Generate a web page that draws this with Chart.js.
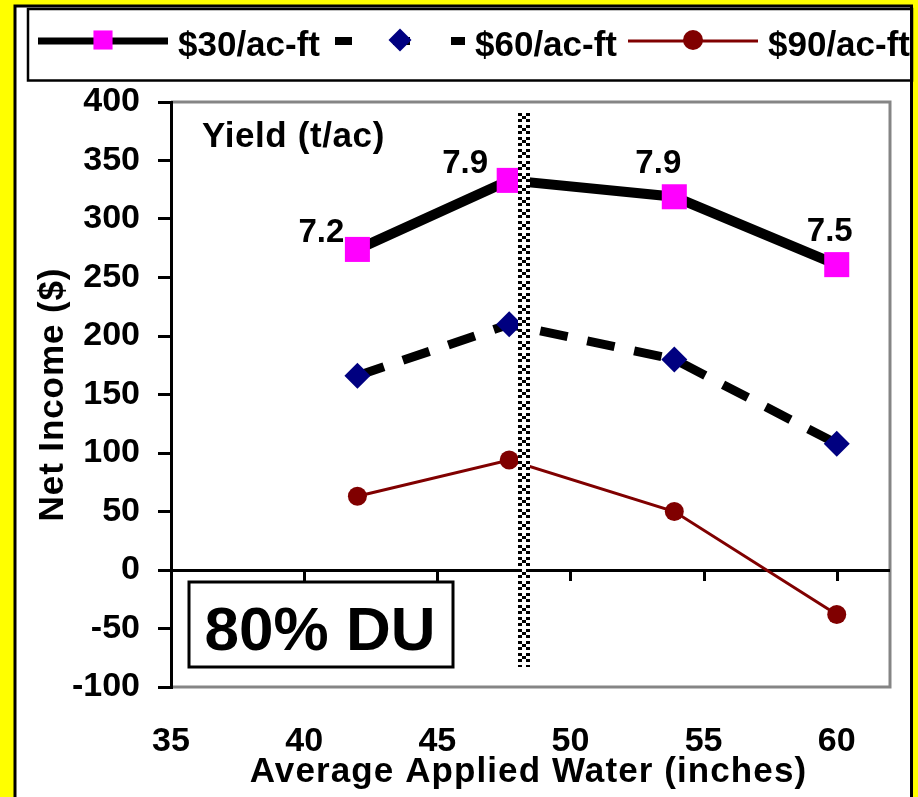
<!DOCTYPE html>
<html>
<head>
<meta charset="utf-8">
<title>Net Income vs Applied Water</title>
<script src="https://cdn.jsdelivr.net/npm/chart.js@4.4.1/dist/chart.umd.min.js"></script>
<style>
  html, body { margin: 0; padding: 0; background: #ffff00; }
  canvas { display: block; }
</style>
</head>
<body>
<canvas id="chart" width="918" height="797"></canvas>
<script>
// Average applied water (inches) for each irrigation level
const appliedWater = [42, 47.7, 53.9, 60];
// Net income ($) at three water prices
const income30 = [274, 333, 319, 261];
const income60 = [166, 210, 180, 108];
const income90 = [63, 94, 50, -38];
// Yield (t/ac) reached at each irrigation level
const yields = ['7.2', '7.9', '7.9', '7.5'];
const seriesLabels = ['$30/ac-ft', '$60/ac-ft', '$90/ac-ft'];
// Axis ticks
const xTickValues = [35, 40, 45, 50, 55, 60];
const yTickValues = [-100, -50, 0, 50, 100, 150, 200, 250, 300, 350, 400];
// Applied water giving the highest income, marked with a vertical guide
const peakWater = 48.25;
const guideSpan = [391, -83];

const FONT = '"Liberation Sans", Arial, Helvetica, sans-serif';
const toPoints = arr => appliedWater.map((x, i) => ({ x: x, y: arr[i] }));

// Offsets of the yield labels from their markers
const yieldLabelOffsets = [[-36, -17], [-44, -16], [-16, -33], [-7, -33]];

const framePlugin = {
  id: 'frame',
  beforeDraw(chart) {
    const { ctx, chartArea: a } = chart;
    ctx.save();
    ctx.fillStyle = '#ffff00';
    ctx.fillRect(0, 0, chart.width, chart.height);
    // white panel with black frame
    ctx.fillStyle = '#ffffff';
    ctx.fillRect(15, 6, 897, 800);
    ctx.strokeStyle = '#000';
    ctx.lineWidth = 3;
    ctx.strokeRect(15, 6, 896.5, 820);
    // legend box
    ctx.lineWidth = 2.5;
    ctx.strokeRect(28, 9, 884, 71.5);
    // grey plot border
    ctx.strokeStyle = '#858585';
    ctx.lineWidth = 3;
    ctx.beginPath();
    ctx.moveTo(a.left, a.top);
    ctx.lineTo(a.right, a.top);
    ctx.lineTo(a.right, a.bottom);
    ctx.lineTo(a.left, a.bottom);
    ctx.stroke();
    ctx.restore();
  },
  beforeDatasetsDraw(chart) {
    const { ctx } = chart;
    const xs = chart.scales.x, ys = chart.scales.y;
    const y0 = ys.getPixelForValue(0);
    ctx.save();
    ctx.strokeStyle = '#000';
    ctx.lineWidth = 3;
    ctx.beginPath();
    xTickValues.forEach(v => {
      const px = Math.round(xs.getPixelForValue(v)) + 0.5;
      ctx.moveTo(px, y0);
      ctx.lineTo(px, y0 + 11);
    });
    ctx.stroke();
    ctx.restore();
  },
  afterDatasetsDraw(chart) {
    const { ctx } = chart;
    const xs = chart.scales.x, ys = chart.scales.y;
    // vertical guide made of stacked small crosses
    const tile = document.createElement('canvas');
    tile.width = 12; tile.height = 12;
    const t = tile.getContext('2d');
    t.fillStyle = '#fff'; t.fillRect(0, 0, 12, 12);
    t.fillStyle = '#000';
    t.fillRect(0, 0, 4, 3); t.fillRect(8, 0, 4, 3);
    t.fillRect(4, 3, 4, 3);
    t.fillRect(0, 6, 4, 3); t.fillRect(8, 6, 4, 3);
    const pat = ctx.createPattern(tile, 'repeat');
    const gx = Math.round(xs.getPixelForValue(peakWater)) - 6;
    const gTop = Math.round(ys.getPixelForValue(guideSpan[0]));
    const gBot = Math.round(ys.getPixelForValue(guideSpan[1]));
    ctx.save();
    ctx.translate(gx, gTop);
    ctx.fillStyle = pat;
    ctx.fillRect(0, 0, 12, gBot - gTop);
    ctx.restore();

    // yield labels beside the $30 markers
    const meta = chart.getDatasetMeta(0);
    ctx.save();
    ctx.fillStyle = '#000';
    ctx.font = 'bold 33px ' + FONT;
    ctx.textAlign = 'center';
    ctx.textBaseline = 'middle';
    meta.data.forEach((pt, i) => {
      const off = yieldLabelOffsets[i];
      ctx.fillText(yields[i], pt.x + off[0], pt.y + off[1]);
    });
    ctx.restore();
  },
  afterDraw(chart) {
    const { ctx, chartArea: a } = chart;
    ctx.save();
    ctx.fillStyle = '#000';
    // caption for the yield labels
    ctx.font = 'bold 35px ' + FONT;
    ctx.textAlign = 'left';
    ctx.textBaseline = 'alphabetic';
    ctx.letterSpacing = '0.6px';
    ctx.fillText('Yield (t/ac)', a.left + 31, a.top + 45);
    ctx.letterSpacing = '0px';

    // distribution uniformity box
    ctx.fillStyle = '#fff';
    ctx.fillRect(189, 582, 264, 85);
    ctx.strokeStyle = '#000';
    ctx.lineWidth = 3;
    ctx.strokeRect(189, 582, 264, 85);
    ctx.fillStyle = '#000';
    ctx.font = 'bold 62px ' + FONT;
    ctx.textAlign = 'center';
    ctx.fillText('80% DU', 320, 650);

    // axis titles
    ctx.font = 'bold 35px ' + FONT;
    ctx.letterSpacing = '1.1px';
    ctx.textAlign = 'center';
    ctx.fillText('Average Applied Water (inches)', (a.left + a.right) / 2 - 2, 782);
    ctx.save();
    ctx.translate(63, (a.top + a.bottom) / 2);
    ctx.rotate(-Math.PI / 2);
    ctx.letterSpacing = '0.9px';
    ctx.fillText('Net Income ($)', 0, 0);
    ctx.restore();
    ctx.letterSpacing = '0px';

    // legend
    const slots = [38, 335, 628];
    const legendY = 41;
    ctx.beginPath();
    ctx.rect(30, 10, 880, 69);
    ctx.clip();
    chart.data.datasets.forEach((ds, i) => {
      const x0 = slots[i];
      ctx.save();
      ctx.strokeStyle = ds.borderColor;
      ctx.lineWidth = ds.legendLineWidth;
      ctx.setLineDash(ds.legendDash || []);
      ctx.lineCap = 'butt';
      ctx.beginPath();
      ctx.moveTo(x0, legendY);
      ctx.lineTo(x0 + 130, legendY);
      ctx.stroke();
      ctx.setLineDash([]);
      ctx.fillStyle = ds.pointBackgroundColor;
      Chart.helpers.drawPoint(ctx, { pointStyle: ds.pointStyle, radius: ds.legendRadius, borderWidth: 0, rotation: 0 }, x0 + 65, legendY - 1);
      ctx.restore();
      ctx.fillStyle = '#000';
      ctx.font = 'bold 35px ' + FONT;
      ctx.textAlign = 'left';
      ctx.textBaseline = 'alphabetic';
      ctx.fillText(ds.label, x0 + 140, 56);
    });
    ctx.restore();
  }
};

new Chart(document.getElementById('chart'), {
  type: 'line',
  data: {
    datasets: [
      {
        label: seriesLabels[0],
        data: toPoints(income30),
        borderColor: '#000000',
        borderWidth: 10,
        pointStyle: 'rect',
        pointRadius: 17.7,
        pointBackgroundColor: '#ff00ff',
        pointBorderColor: '#ff00ff',
        pointBorderWidth: 0,
        legendLineWidth: 7,
        legendRadius: 13.5
      },
      {
        label: seriesLabels[1],
        data: toPoints(income60),
        borderColor: '#000000',
        borderWidth: 9,
        borderDash: [28, 20],
        pointStyle: 'rectRot',
        pointRadius: 13,
        pointBackgroundColor: '#000080',
        pointBorderColor: '#000080',
        pointBorderWidth: 0,
        legendLineWidth: 8,
        legendDash: [17, 41],
        legendRadius: 11.5
      },
      {
        label: seriesLabels[2],
        data: toPoints(income90),
        borderColor: '#800000',
        borderWidth: 3,
        pointStyle: 'circle',
        pointRadius: 9.5,
        pointBackgroundColor: '#800000',
        pointBorderColor: '#800000',
        pointBorderWidth: 0,
        legendLineWidth: 3,
        legendRadius: 10
      }
    ]
  },
  options: {
    responsive: false,
    animation: false,
    devicePixelRatio: 1,
    events: [],
    layout: { padding: { top: 102, right: 28, bottom: 0, left: 0 } },
    elements: { line: { tension: 0, fill: false } },
    plugins: { legend: { display: false }, tooltip: { enabled: false } },
    scales: {
      x: {
        type: 'linear',
        min: 35,
        max: 62,
        afterBuildTicks: s => { s.ticks = xTickValues.map(v => ({ value: v })); },
        afterFit: s => { s.height = 110; },
        ticks: {
          autoSkip: false,
          maxRotation: 0,
          padding: 34,
          color: '#000',
          font: { family: FONT, size: 34, weight: 'bold' }
        },
        grid: { display: false, drawTicks: false },
        border: { display: false }
      },
      y: {
        type: 'linear',
        min: -100,
        max: 400,
        afterBuildTicks: s => { s.ticks = yTickValues.map(v => ({ value: v })); },
        afterFit: s => { s.width = 171; },
        ticks: {
          padding: 18,
          color: '#000',
          font: { family: FONT, size: 34, weight: 'bold' }
        },
        grid: {
          drawOnChartArea: true,
          drawTicks: true,
          tickLength: 13,
          color: c => (c.tick && c.tick.value === 0) ? '#000000' : 'rgba(0,0,0,0)',
          tickColor: '#000000',
          lineWidth: 3,
          tickWidth: 3
        },
        border: { display: true, color: '#000000', width: 3 }
      }
    }
  },
  plugins: [framePlugin]
});
</script>
</body>
</html>
